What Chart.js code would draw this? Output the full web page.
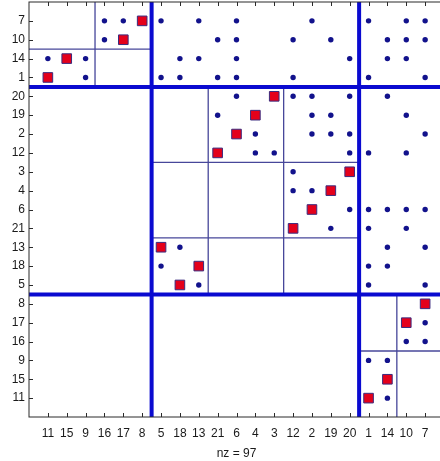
<!DOCTYPE html>
<html>
<head>
<meta charset="utf-8">
<script src="https://cdn.jsdelivr.net/npm/chart.js@4.4.1/dist/chart.umd.min.js"></script>
<style>
  html, body { margin: 0; padding: 0; background: #fff; overflow: hidden; }
  #wrap { width: 448px; height: 461px; }
</style>
</head>
<body>
<div id="wrap"><canvas id="chart" width="448" height="461"></canvas></div>
<script>
// Permuted row labels (top to bottom) and column labels (left to right).
const rowLabels = [7, 10, 14, 1, 20, 19, 2, 12, 3, 4, 6, 21, 13, 18, 5, 8, 17, 16, 9, 15, 11];
const colLabels = [11, 15, 9, 16, 17, 8, 5, 18, 13, 21, 6, 4, 3, 12, 2, 19, 20, 1, 14, 10, 7];

// Matched entries (red squares): column position for each row position, 0 = unmatched.
const matchCol = [6, 5, 2, 1, 13, 12, 11, 10, 17, 16, 15, 14, 7, 9, 8, 21, 20, 0, 0, 19, 18];

// Remaining nonzeros (blue dots): column positions for each row position.
const dotCols = [
  [4, 5, 7, 9, 11, 15, 18, 20, 21],
  [4, 10, 11, 14, 16, 19, 20, 21],
  [1, 3, 8, 9, 11, 17, 19, 20],
  [3, 7, 8, 10, 11, 14, 18, 21],
  [11, 14, 15, 17, 19],
  [10, 15, 16, 20],
  [12, 15, 16, 17, 21],
  [12, 13, 17, 18, 20],
  [14],
  [14, 15],
  [17, 18, 19, 20, 21],
  [16, 18, 20],
  [8, 19, 21],
  [7, 18, 19],
  [9, 18, 21],
  [],
  [21],
  [20, 21],
  [18, 19],
  [],
  [19],
];

// Coarse decomposition splits (between positions), and fine block edges [x1, y1, x2, y2].
const coarseRowSplits = [4.5, 15.5];
const coarseColSplits = [6.5, 17.5];
const fineLines = [
  [3.5, 0, 3.5, 4.5],
  [0, 2.5, 6.5, 2.5],
  [9.5, 4.5, 9.5, 15.5],
  [13.5, 4.5, 13.5, 15.5],
  [6.5, 8.5, 17.5, 8.5],
  [6.5, 12.5, 17.5, 12.5],
  [19.5, 15.5, 19.5, 22],
  [17.5, 18.5, 22, 18.5],
];

(function () {
  const n = rowLabels.length;
  const lim = n + 1;
  const font = { family: "'Liberation Sans', Arial, sans-serif", size: 12 };

  const dots = dotCols.flatMap((cols, r) => cols.map((c) => ({ x: c, y: r + 1 })));
  const squares = matchCol
    .map((c, r) => ({ x: c, y: r + 1 }))
    .filter((p) => p.x > 0);
  const nz = dots.length + squares.length;

  const seg = (x1, y1, x2, y2, color, width) => ({
    type: "line",
    data: [{ x: x1, y: y1 }, { x: x2, y: y2 }],
    borderColor: color,
    borderWidth: width,
    pointRadius: 0,
    showLine: true,
    fill: false,
  });

  // first datasets are drawn last (on top): points, then thick, then thin lines
  const datasets = [
    {
      label: "match",
      data: squares,
      pointStyle: "rect",
      pointRadius: 6.8,
      backgroundColor: "#e4001b",
      borderColor: "#3b2a7e",
      borderWidth: 1,
    },
    {
      label: "nz",
      data: dots,
      pointStyle: "circle",
      pointRadius: 2.7,
      backgroundColor: "#12128c",
      borderWidth: 0,
    },
  ];
  coarseColSplits.forEach((c) => datasets.push(seg(c, 0, c, lim, "#0a0ad0", 4)));
  coarseRowSplits.forEach((r) => datasets.push(seg(0, r, lim, r, "#0a0ad0", 4)));
  fineLines.forEach((l) => datasets.push(seg(l[0], l[1], l[2], l[3], "#47479a", 1.3)));

  // drop the label overhang padding so the plot box sits where MATLAB put it
  const noPad = (s) => {
    s.paddingTop = 0; s.paddingBottom = 0; s.paddingLeft = 0; s.paddingRight = 0;
  };

  // box + inward tick marks on all four sides, like the MATLAB axes
  const frame = {
    id: "frame",
    afterDraw(chart) {
      const { ctx, chartArea: a, scales } = chart;
      ctx.save();
      ctx.strokeStyle = "#2a2a2a";
      ctx.lineWidth = 1;
      ctx.strokeRect(a.left, a.top, a.right - a.left, a.bottom - a.top);
      ctx.beginPath();
      scales.x.ticks.forEach((t) => {
        const px = Math.round(scales.x.getPixelForValue(t.value)) + 0.5;
        ctx.moveTo(px, a.bottom); ctx.lineTo(px, a.bottom - 4);
        ctx.moveTo(px, a.top); ctx.lineTo(px, a.top + 4);
      });
      scales.y.ticks.forEach((t) => {
        const py = Math.round(scales.y.getPixelForValue(t.value)) + 0.5;
        ctx.moveTo(a.left, py); ctx.lineTo(a.left + 4, py);
        ctx.moveTo(a.right, py); ctx.lineTo(a.right - 4, py);
      });
      ctx.stroke();
      ctx.restore();
    },
  };

  new Chart(document.getElementById("chart"), {
    type: "scatter",
    data: { datasets },
    options: {
      responsive: false,
      animation: false,
      events: [],
      layout: { autoPadding: false, padding: { top: 2, right: 4, left: 0, bottom: 0 } },
      plugins: { legend: { display: false }, tooltip: { enabled: false } },
      scales: {
        x: {
          type: "linear",
          min: 0,
          max: lim,
          afterBuildTicks: (s) => { s.ticks = colLabels.map((_, i) => ({ value: i + 1 })); },
          afterFit: (s) => { s.height = 44; noPad(s); },
          ticks: {
            callback: (v) => colLabels[v - 1],
            autoSkip: false,
            maxRotation: 0,
            padding: 9,
            color: "#1a1a1a",
            font,
          },
          grid: { display: false, drawTicks: false },
          border: { display: false },
          title: { display: true, text: "nz = " + nz, color: "#1a1a1a", font, padding: { top: 4, bottom: 0 } },
        },
        y: {
          type: "linear",
          min: 0,
          max: lim,
          reverse: true,
          afterBuildTicks: (s) => { s.ticks = rowLabels.map((_, i) => ({ value: i + 1 })); },
          afterFit: (s) => { s.width = 29; noPad(s); },
          ticks: {
            callback: (v) => rowLabels[v - 1],
            autoSkip: false,
            padding: 4,
            color: "#1a1a1a",
            font,
          },
          grid: { display: false, drawTicks: false },
          border: { display: false },
        },
      },
    },
    plugins: [frame],
  });
})();
</script>
</body>
</html>
